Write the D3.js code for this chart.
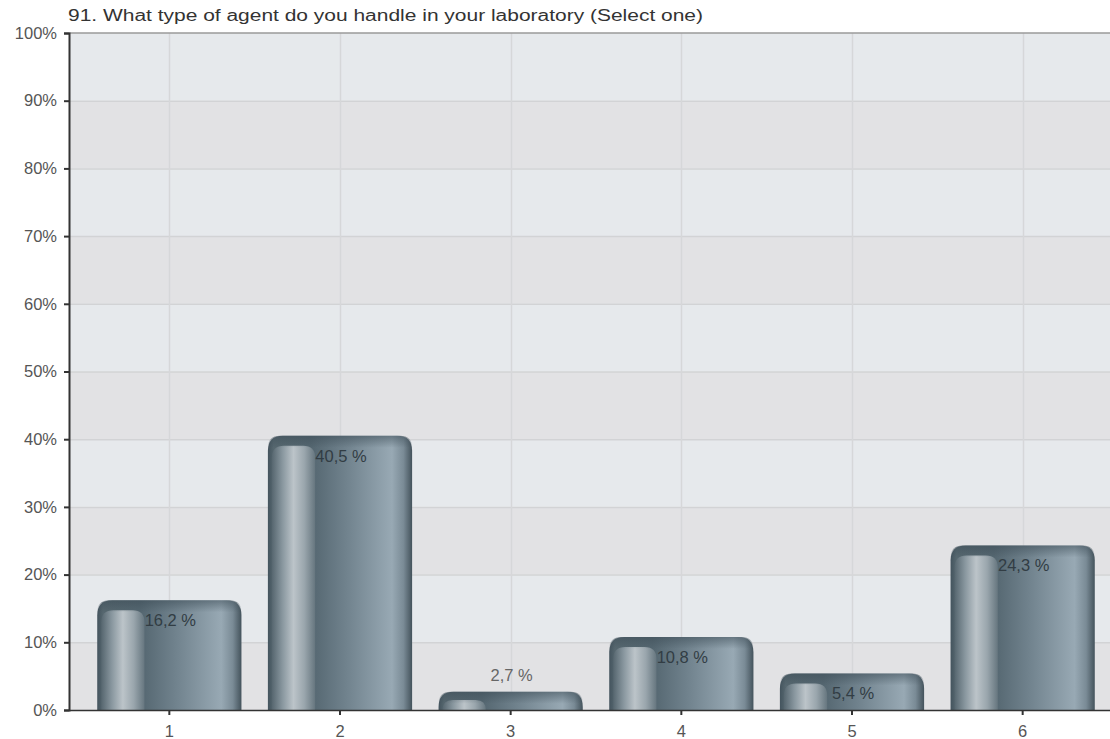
<!DOCTYPE html>
<html lang="en">
<head>
    <meta charset="UTF-8">
    <title>91. What type of agent do you handle in your laboratory</title>
    <script src="https://d3js.org/d3.v7.min.js"></script>
    <style>
        body {
            margin: 0;
            padding: 0;
            background: #fff;
            font-family: Arial, "Liberation Sans", sans-serif;
        }
    </style>
</head>
<body>
    <div id="chart"></div>
    <script>
        // Data
        const title = "91. What type of agent do you handle in your laboratory (Select one)";
        const categories = ["1", "2", "3", "4", "5", "6"];
        const values = [16.2, 40.5, 2.7, 10.8, 5.4, 24.3];
        const yTicks = [0, 10, 20, 30, 40, 50, 60, 70, 80, 90, 100];

        const width = 1110, height = 739;
        const plotLeft = 69, plotRight = 1110, plotTop = 33, plotBottom = 710;

        const svg = d3.select("#chart")
            .append("svg")
            .attr("width", width)
            .attr("height", height);

        const x = d3.scaleBand()
            .domain(categories)
            .range([84, 1108]);

        const y = d3.scaleLinear()
            .domain([0, 100])
            .range([plotBottom, plotTop]);

        const barW = x.bandwidth() * 0.845;

        // Gradients
        const defs = svg.append("defs");

        const gBody = defs.append("linearGradient")
            .attr("id", "body").attr("x1", 0).attr("x2", 1).attr("y1", 0).attr("y2", 0);
        [[0, "#44545e"], [0.04, "#56676f"], [0.3, "#546670"], [0.55, "#71838e"],
         [0.86, "#98a9b4"], [0.94, "#7a8b96"], [1, "#44535c"]]
            .forEach(s => gBody.append("stop").attr("offset", s[0]).attr("stop-color", s[1]));

        const gHi = defs.append("linearGradient")
            .attr("id", "hi").attr("x1", 0).attr("x2", 1).attr("y1", 0).attr("y2", 0);
        [[0, "#56666f"], [0.25, "#8a98a0"], [0.5, "#bcc4c9"], [0.75, "#9aa6ad"], [1, "#66767f"]]
            .forEach(s => gHi.append("stop").attr("offset", s[0]).attr("stop-color", s[1]));

        const gRim = defs.append("linearGradient")
            .attr("id", "rim").attr("x1", 0).attr("x2", 0).attr("y1", 0).attr("y2", 1);
        [[0, "#3e4e58", 0.55], [1, "#3e4e58", 0]]
            .forEach(s => gRim.append("stop").attr("offset", s[0])
                .attr("stop-color", s[1]).attr("stop-opacity", s[2]));

        // Background bands
        svg.append("g")
            .selectAll("rect")
            .data(yTicks.slice(0, -1))
            .join("rect")
            .attr("x", plotLeft)
            .attr("width", plotRight - plotLeft)
            .attr("y", d => y(d + 10))
            .attr("height", d => y(d) - y(d + 10))
            .attr("fill", (d, i) => i % 2 === 0 ? "#e2e2e4" : "#e6e9ec");

        // Grid lines
        svg.append("g")
            .selectAll("line")
            .data(yTicks.slice(1, -1))
            .join("line")
            .attr("x1", plotLeft).attr("x2", plotRight)
            .attr("y1", d => y(d) + 0.5).attr("y2", d => y(d) + 0.5)
            .attr("stroke", "#d2d3d5")
            .attr("stroke-width", 1.5);

        svg.append("g")
            .selectAll("line")
            .data(categories)
            .join("line")
            .attr("x1", d => Math.round(x(d) + x.bandwidth() / 2) + 0.5)
            .attr("x2", d => Math.round(x(d) + x.bandwidth() / 2) + 0.5)
            .attr("y1", plotTop).attr("y2", plotBottom)
            .attr("stroke", "#d6d7d9")
            .attr("stroke-width", 1.5);

        // top border
        svg.append("line")
            .attr("x1", plotLeft).attr("x2", plotRight)
            .attr("y1", plotTop).attr("y2", plotTop)
            .attr("stroke", "#9a9a9a")
            .attr("stroke-width", 1.5);

        // Bars
        function topRounded(x0, y0, w, h, r) {
            r = Math.min(r, h, w / 2);
            return `M${x0},${y0 + h}V${y0 + r}Q${x0},${y0} ${x0 + r},${y0}` +
                `H${x0 + w - r}Q${x0 + w},${y0} ${x0 + w},${y0 + r}V${y0 + h}Z`;
        }

        const bars = svg.append("g")
            .selectAll("g")
            .data(values)
            .join("g")
            .attr("transform", (d, i) =>
                `translate(${x(categories[i]) + (x.bandwidth() - barW) / 2},0)`);

        bars.append("path")
            .attr("d", d => topRounded(0, y(d), barW, plotBottom - y(d), 15))
            .attr("fill", "url(#body)");

        bars.append("path")
            .attr("d", d => {
                const h = plotBottom - y(d);
                const off = Math.min(10, h * 0.45);
                return topRounded(4, y(d) + off, barW * 0.3, h - off, 12);
            })
            .attr("fill", "url(#hi)");

        bars.append("path")
            .attr("d", d => topRounded(0, y(d), barW, Math.min(12, plotBottom - y(d)), 15))
            .attr("fill", "url(#rim)");

        // Value labels: inside the bar when it is tall enough, above it otherwise
        const fits = d => plotBottom - y(d) > 26;
        bars.append("text")
            .attr("x", barW / 2 + 1)
            .attr("y", d => fits(d) ? y(d) + 26 : y(d) - 11)
            .attr("text-anchor", "middle")
            .attr("font-size", 16.5)
            .attr("fill", d => fits(d) ? "#323d44" : "#666")
            .text(d => d.toFixed(1).replace(".", ",") + " %");

        // Axes
        const yAxis = svg.append("g")
            .attr("transform", `translate(${plotLeft},0)`)
            .call(d3.axisLeft(y).tickValues(yTicks).tickSize(5).tickPadding(7)
                .tickFormat(d => d + "%"));
        yAxis.select(".domain").attr("stroke", "#333").attr("stroke-width", 2);
        yAxis.selectAll(".tick line").attr("stroke", "#333").attr("stroke-width", 2);

        const xAxis = svg.append("g")
            .attr("transform", `translate(0,${plotBottom})`)
            .call(d3.axisBottom(x).tickSize(5).tickPadding(10).tickSizeOuter(0));
        xAxis.select(".domain")
            .attr("d", `M${plotLeft},0.5H${plotRight}`)
            .attr("stroke", "#333").attr("stroke-width", 1.5);
        xAxis.selectAll(".tick line").attr("stroke", "#333").attr("stroke-width", 2);

        svg.selectAll(".tick text")
            .attr("font-family", "Arial, 'Liberation Sans', sans-serif")
            .style("font-size", "16.5px")
            .attr("fill", "#555");

        // Title
        svg.append("text")
            .attr("x", 68)
            .attr("y", 21)
            .attr("font-size", 16)
            .attr("fill", "#333")
            .attr("textLength", 635)
            .attr("lengthAdjust", "spacingAndGlyphs")
            .text(title);
    </script>
</body>
</html>
